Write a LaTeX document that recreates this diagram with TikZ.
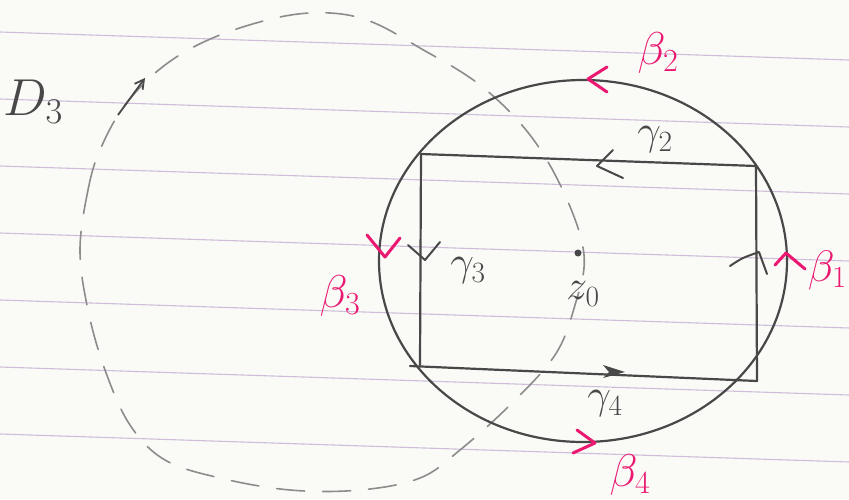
\RequirePackage{fix-cm}
\documentclass[tikz,border=0pt]{standalone}
\usepackage{amsmath}
\usetikzlibrary{arrows.meta}
\definecolor{paper}{RGB}{250,250,247}
\definecolor{ruling}{RGB}{205,190,218}
\definecolor{pen}{RGB}{72,72,72}
\definecolor{faint}{RGB}{140,140,140}
\definecolor{marker}{RGB}{234,24,112}
\tikzset{
  penline/.style={draw=pen, line width=2.2pt, line cap=round, line join=round},
  chev/.style={draw=pen, line width=2pt, line cap=round, line join=round},
  redchev/.style={draw=marker, line width=3pt, line cap=round, line join=round},
  dcurve/.style={draw=faint, line width=1.6pt, dash pattern=on 28pt off 18pt, line cap=round},
  blab/.style={text=pen, inner sep=0pt},
  rlab/.style={text=marker, inner sep=0pt}
}
\begin{document}
\begin{tikzpicture}[x=1pt,y=-1pt]
\fill[paper] (0,0) rectangle (849,499);
\useasboundingbox (0,0) rectangle (849,499);
% ruled paper
\foreach \yy in {32,99,166,233,300,367,434}
  \draw[ruling, line width=1.1pt] (0,\yy) -- (849,\yy+28);
% dashed region D3
\draw[dcurve] plot[smooth cycle, tension=0.6] coordinates {
 (80,250) (88,190) (100,150) (125,105) (165,65) (215,37) (280,17) (330,13)
 (372,22) (420,48) (480,85) (530,135) (565,195) (584,255) (575,305) (555,355)
 (510,405) (460,450) (420,478) (360,490) (290,490) (220,478) (165,460)
 (130,425) (105,370) (88,310)};
\coordinate (da) at (118,115);
\coordinate (db) at (145,78);
\draw[draw=pen, line width=1.8pt, -{Straight Barb[length=9pt,width=10pt]}] (da) -- (db);
% circle
\coordinate (c0) at (583,261);
\draw[penline] (c0) ellipse [x radius=204, y radius=181];
% rectangle
\coordinate (tl) at (421,154);
\coordinate (tr) at (756,166);
\coordinate (br) at (757,381);
\coordinate (bl) at (420,365);
\draw[penline] (tl) -- (tr) -- (br);
\draw[penline] (tl) -- (bl);
\draw[penline] (410,366) -- (br);
% rectangle arrows
\draw[chev] (613,150) -- (597,166) -- (623,178);
\draw[chev] (408,245) -- (425,260) -- (440,242);
\draw[chev] (730,266) .. controls (742,258) .. (759,252) -- (767,274);
\fill[pen] (603,365) -- (625,372) -- (603,378) -- (609,372) -- cycle;
% circle arrows (red)
\draw[redchev] (607,67) -- (588,79) -- (607,92);
\draw[redchev] (367,235) -- (385,257) -- (400,238);
\draw[redchev] (775,265) -- (786,253) -- (805,269);
\draw[redchev] (577,430) -- (595,443) -- (573,453);
% z0
\node[circle, fill=pen, inner sep=0pt, minimum size=7pt] (z) at (578,253) {};
\node[blab, font=\fontsize{42}{46}\selectfont] (zl) at (583,294) {$z_0$};
% labels
\node[blab, font=\fontsize{52}{56}\selectfont] (D) at (33,102) {$D_3$};
\node[blab, font=\fontsize{42}{46}\selectfont] (g2) at (655,140) {$\gamma_2$};
\node[blab, font=\fontsize{42}{46}\selectfont] (g3) at (468,271) {$\gamma_3$};
\node[blab, font=\fontsize{42}{46}\selectfont] (g4) at (605,404) {$\gamma_4$};
\node[rlab, font=\fontsize{46}{50}\selectfont] (b2) at (658,53) {$\beta_2$};
\node[rlab, font=\fontsize{46}{50}\selectfont] (b3) at (340,296) {$\beta_3$};
\node[rlab, font=\fontsize{44}{48}\selectfont, anchor=east] (b1) at (847,270) {$\beta_1$};
\node[rlab, font=\fontsize{46}{50}\selectfont] (b4) at (630,475) {$\beta_4$};
\end{tikzpicture}
\end{document}
